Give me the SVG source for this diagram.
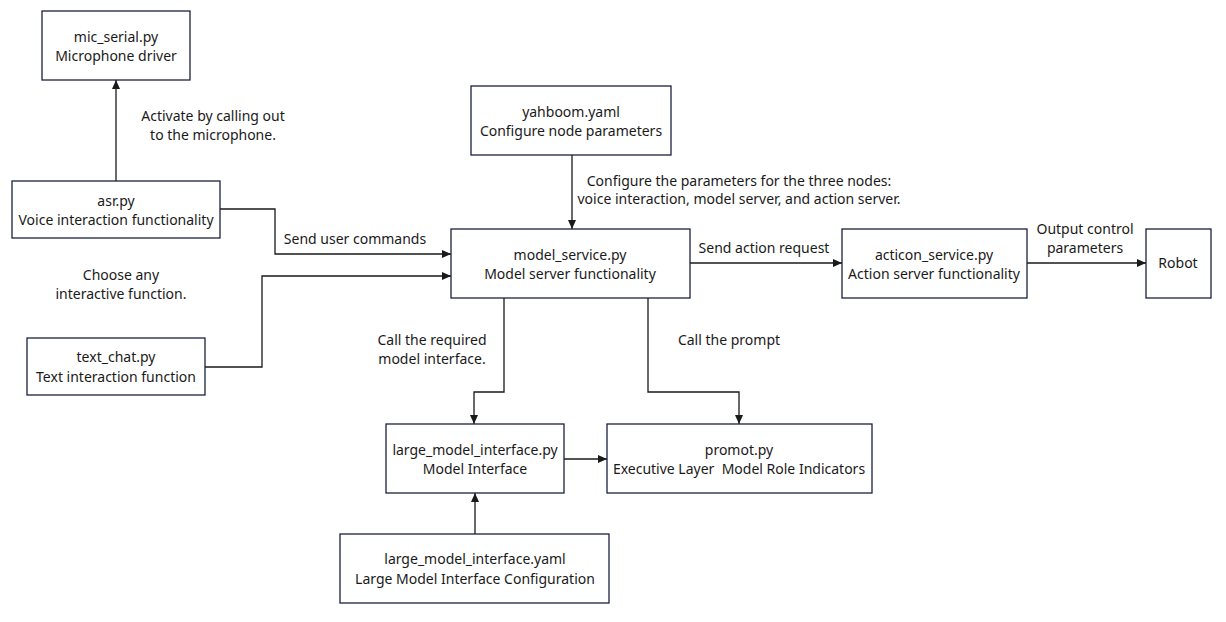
<svg xmlns="http://www.w3.org/2000/svg" width="1226" height="622" viewBox="0 0 1226 622">
<style>
.box{fill:#fff;stroke:#1c1f3f;stroke-width:1.3}
.t{font-family:"Noto Sans","Open Sans","Liberation Sans",sans-serif;font-size:14px;fill:#1a1a1a;text-anchor:middle}
.c{fill:none;stroke:#1a1a1a;stroke-width:1.3}
</style>
<defs>
<marker id="ah" markerWidth="10" markerHeight="10" refX="9" refY="5" orient="auto" markerUnits="userSpaceOnUse">
<path d="M0,1 L9,5 L0,9 Z" fill="#1a1a1a"/>
</marker>
</defs>
<rect width="1226" height="622" fill="#fff"/>
<g id="connectors">
<path class="c" d="M116,181 V80" marker-end="url(#ah)"/>
<path class="c" d="M220,209 H275 V254 H451" marker-end="url(#ah)"/>
<path class="c" d="M205,367 H262 V276 H451" marker-end="url(#ah)"/>
<path class="c" d="M572,155 V229" marker-end="url(#ah)"/>
<path class="c" d="M690,263 H842" marker-end="url(#ah)"/>
<path class="c" d="M1027,263 H1146" marker-end="url(#ah)"/>
<path class="c" d="M504,298 V392 H474 V424" marker-end="url(#ah)"/>
<path class="c" d="M648,298 V392 H739 V424" marker-end="url(#ah)"/>
<path class="c" d="M564,459 H607" marker-end="url(#ah)"/>
<path class="c" d="M475,534 V493" marker-end="url(#ah)"/>
<text class="t" x="213" y="121">Activate by calling out</text>
<text class="t" x="213" y="140">to the microphone.</text>
<text class="t" x="355" y="244">Send user commands</text>
<text class="t" x="121" y="280">Choose any</text>
<text class="t" x="121" y="299">interactive function.</text>
<text class="t" x="739" y="186">Configure the parameters for the three nodes:</text>
<text class="t" x="739" y="204">voice interaction, model server, and action server.</text>
<text class="t" x="764" y="253">Send action request</text>
<text class="t" x="1085" y="234">Output control</text>
<text class="t" x="1085" y="253">parameters</text>
<text class="t" x="432" y="345">Call the required</text>
<text class="t" x="432" y="364">model interface.</text>
<text class="t" x="729" y="345">Call the prompt</text>
</g>
<g id="mic_serial">
<rect class="box" x="42" y="11" width="148" height="69"/>
<text class="t" x="116" y="42">mic_serial.py</text>
<text class="t" x="116" y="61">Microphone driver</text>
</g>
<g id="asr">
<rect class="box" x="12" y="181" width="208" height="57"/>
<text class="t" x="116" y="206">asr.py</text>
<text class="t" x="116" y="225">Voice interaction functionality</text>
</g>
<g id="text_chat">
<rect class="box" x="27" y="338" width="178" height="57"/>
<text class="t" x="116" y="362">text_chat.py</text>
<text class="t" x="116" y="382">Text interaction function</text>
</g>
<g id="yahboom">
<rect class="box" x="471" y="86" width="200" height="69"/>
<text class="t" x="571" y="117">yahboom.yaml</text>
<text class="t" x="571" y="136">Configure node parameters</text>
</g>
<g id="model_service">
<rect class="box" x="451" y="229" width="239" height="69"/>
<text class="t" x="570" y="260">model_service.py</text>
<text class="t" x="570" y="279">Model server functionality</text>
</g>
<g id="action_service">
<rect class="box" x="842" y="229" width="185" height="69"/>
<text class="t" x="934" y="260">acticon_service.py</text>
<text class="t" x="934" y="279">Action server functionality</text>
</g>
<g id="robot">
<rect class="box" x="1146" y="229" width="65" height="69"/>
<text class="t" x="1178" y="268">Robot</text>
</g>
<g id="large_model_interface">
<rect class="box" x="386" y="424" width="178" height="69"/>
<text class="t" x="475" y="455">large_model_interface.py</text>
<text class="t" x="475" y="474">Model Interface</text>
</g>
<g id="promot">
<rect class="box" x="607" y="424" width="265" height="69"/>
<text class="t" x="739" y="455">promot.py</text>
<text class="t" x="739" y="474">Executive Layer&#160; Model Role Indicators</text>
</g>
<g id="large_model_interface_yaml">
<rect class="box" x="340" y="534" width="269" height="69"/>
<text class="t" x="475" y="564">large_model_interface.yaml</text>
<text class="t" x="475" y="584">Large Model Interface Configuration</text>
</g>
</svg>
